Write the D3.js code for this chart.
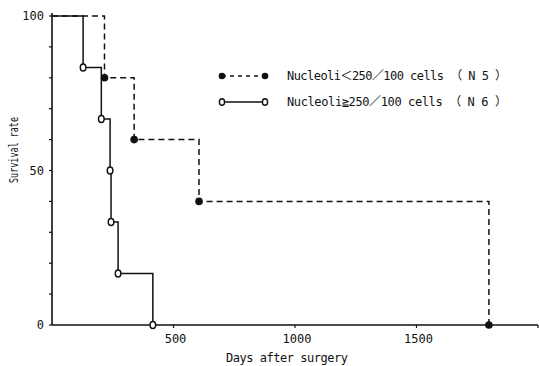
<!DOCTYPE html>
<html>
<head>
<meta charset="utf-8">
<script src="https://cdn.jsdelivr.net/npm/d3@7"></script>
<style>
  body { margin: 0; background: #fff; }
  text { font-family: "DejaVu Sans Mono", "Noto Sans CJK JP", monospace; fill: #111; }
</style>
</head>
<body>
<div id="chart"></div>
<script>
// Kaplan-Meier style survival steps
// low group (filled dots, dashed): event days and survival after each event
const lowDays = [216, 338, 605, 1798];
const lowSurv = [80, 60, 40, 0];
// high group (open dots, solid)
const highDays = [128, 203, 239, 243, 272, 415];
const highSurv = [83.3, 66.7, 50, 33.3, 16.7, 0];

const xTicks = [500, 1000, 1500];
const yTickLabels = [0, 50, 100];
const yMinor = d3.range(0, 101, 10);

const legendLabels = ['Nucleoli\uFF1C250\uFF0F100 cells \uFF08 N 5 \uFF09',
                      'Nucleoli\u2267250\uFF0F100 cells \uFF08 N 6 \uFF09'];

let width = 539;
let height = 366;

const svg = d3.select('#chart')
  .append('svg')
  .attr('width', width)
  .attr('height', height)

const x = d3.scaleLinear().domain([0, 2000]).range([52, 538])
const y = d3.scaleLinear().domain([0, 100]).range([325, 16])

// build step path starting at 100% from day 0
function stepLine(days, surv) {
  let pts = [[0, 100]];
  let s = 100;
  days.forEach((d, i) => {
    pts.push([d, s]);
    pts.push([d, surv[i]]);
    s = surv[i];
  })
  return d3.line().x(p => x(p[0])).y(p => y(p[1]))(pts);
}

// axes
svg.append('line')
  .attr('x1', x(0)).attr('x2', x(0))
  .attr('y1', y(101)).attr('y2', y(0))
  .attr('stroke', '#111').attr('stroke-width', 1.6)

svg.append('line')
  .attr('x1', x(0)).attr('x2', x(2000))
  .attr('y1', y(0)).attr('y2', y(0))
  .attr('stroke', '#111').attr('stroke-width', 1.6)

svg.selectAll('.ytick')
  .data(yMinor)
  .enter()
  .append('line')
  .attr('x1', x(0) - 3).attr('x2', x(0))
  .attr('y1', d => y(d)).attr('y2', d => y(d))
  .attr('stroke', '#111').attr('stroke-width', 1.2)

svg.selectAll('.ylab')
  .data(yTickLabels)
  .enter()
  .append('text')
  .attr('x', x(0) - 8)
  .attr('y', d => y(d) + 4)
  .attr('text-anchor', 'end')
  .attr('font-size', 12)
  .text(d => d)

svg.selectAll('.xtick')
  .data(xTicks.concat([2000]))
  .enter()
  .append('line')
  .attr('x1', d => x(d)).attr('x2', d => x(d))
  .attr('y1', y(0)).attr('y2', y(0) + 3)
  .attr('stroke', '#111').attr('stroke-width', 1.2)

svg.selectAll('.xlab')
  .data(xTicks)
  .enter()
  .append('text')
  .attr('x', d => x(d) + 2)
  .attr('y', y(0) + 18)
  .attr('text-anchor', 'middle')
  .attr('font-size', 12)
  .text(d => d)

svg.append('text')
  .attr('x', 287)
  .attr('y', 362)
  .attr('text-anchor', 'middle')
  .attr('font-size', 12)
  .attr('textLength', 122)
  .text('Days after surgery')

svg.append('text')
  .attr('transform', 'translate(18,150) rotate(-90)')
  .attr('text-anchor', 'middle')
  .attr('font-size', 12.5)
  .attr('textLength', 66)
  .attr('lengthAdjust', 'spacingAndGlyphs')
  .text('Survival rate')

// survival curves
svg.append('path')
  .attr('d', stepLine(lowDays, lowSurv))
  .attr('fill', 'none')
  .attr('stroke', '#111')
  .attr('stroke-width', 1.5)
  .attr('stroke-dasharray', '6,4')

svg.append('path')
  .attr('d', stepLine(highDays, highSurv))
  .attr('fill', 'none')
  .attr('stroke', '#111')
  .attr('stroke-width', 1.5)

svg.selectAll('.lowdot')
  .data(lowDays)
  .enter()
  .append('circle')
  .attr('cx', d => x(d))
  .attr('cy', (d, i) => y(lowSurv[i]))
  .attr('r', 3.8)
  .attr('fill', '#111')

svg.selectAll('.highdot')
  .data(highDays)
  .enter()
  .append('ellipse')
  .attr('cx', d => x(d))
  .attr('cy', (d, i) => y(highSurv[i]))
  .attr('rx', 2.8)
  .attr('ry', 3.5)
  .attr('fill', '#fff')
  .attr('stroke', '#111')
  .attr('stroke-width', 1.5)

// legend
const legend = svg.append('g')

legend.append('line')
  .attr('x1', 222).attr('x2', 265).attr('y1', 76).attr('y2', 76)
  .attr('stroke', '#111').attr('stroke-width', 1.3).attr('stroke-dasharray', '4,4')
legend.selectAll('.lf')
  .data([222, 265])
  .enter()
  .append('circle')
  .attr('cx', d => d).attr('cy', 76).attr('r', 3.3).attr('fill', '#111')

legend.append('line')
  .attr('x1', 222).attr('x2', 265).attr('y1', 102).attr('y2', 102)
  .attr('stroke', '#111').attr('stroke-width', 1.3)
legend.selectAll('.lo')
  .data([222, 265])
  .enter()
  .append('ellipse')
  .attr('cx', d => d).attr('cy', 102).attr('rx', 2.6).attr('ry', 3.2)
  .attr('fill', '#fff').attr('stroke', '#111').attr('stroke-width', 1.4)

legend.selectAll('.ltext')
  .data(legendLabels)
  .enter()
  .append('text')
  .attr('x', 287)
  .attr('y', (d, i) => 80 + i * 26)
  .attr('font-size', 12)
  .attr('textLength', 220)
  .text(d => d)
</script>
</body>
</html>
